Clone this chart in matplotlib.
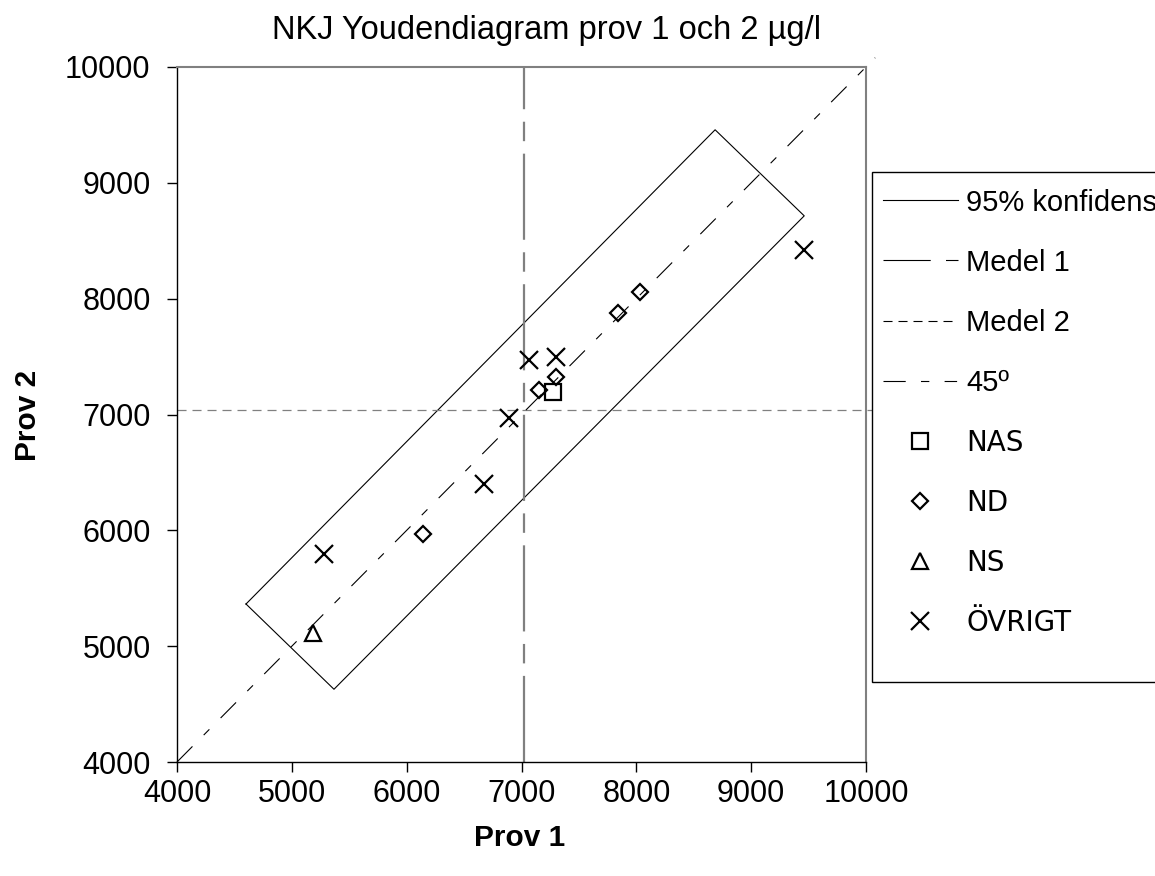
import matplotlib

matplotlib.use("Agg")
import matplotlib.pyplot as plt
from matplotlib.lines import Line2D
from matplotlib.patches import Rectangle

plt.rcParams["font.family"] = ["Liberation Sans", "DejaVu Sans"]
plt.rcParams["lines.scale_dashes"] = False

# results per lab group (prov 1, prov 2), µg/l
nas_x = [7277]
nas_y = [7197]
nd_x = [6145, 7155, 7300, 7838, 8032]
nd_y = [5968, 7212, 7322, 7873, 8060]
ns_x = [5187]
ns_y = [5110]
ovrigt_x = [5280, 6673, 6895, 7068, 7300, 9460]
ovrigt_y = [5796, 6400, 6967, 7471, 7499, 8420]

# means and 95% confidence box corners
medel_1 = 7022
medel_2 = 7039
conf_x = [4601, 5367, 9462, 8686, 4601]
conf_y = [5364, 4628, 8715, 9458, 5364]
diag_end = [4000, 10080]

ticks = [4000, 5000, 6000, 7000, 8000, 9000, 10000]

W, H = 1155, 876
fig = plt.figure(figsize=(W / 100, H / 100), dpi=100)
ax = fig.add_axes([177 / W, (H - 762) / H, 689 / W, 695 / H])

ax.set_xlim(4000, 10000)
ax.set_ylim(4000, 10000)

grey = "#808080"
ax.plot(conf_x, conf_y, color="black", lw=0.8, zorder=2)
ax.plot([medel_1, medel_1], [4000, 10000], color=grey, lw=1.6,
        dashes=[62, 9, 14, 9], zorder=2)
ax.plot([4000, 10050], [medel_2, medel_2], color=grey, lw=0.9,
        dashes=[6.5, 4.3], zorder=2, clip_on=False)
ax.plot(diag_end, diag_end, color="black", lw=0.8,
        dashes=[15.8, 11.5, 5.8, 11.5], zorder=2, clip_on=False)

mk = dict(color="black", linestyle="none", markerfacecolor="none",
          markeredgewidth=1.6, zorder=3)
ax.plot(nas_x, nas_y, marker="s", markersize=11, **mk)
ax.plot(nd_x, nd_y, marker="D", markersize=8.5, **mk)
ax.plot(ns_x, ns_y, marker="^", markersize=12, **mk)
ax.plot(ovrigt_x, ovrigt_y, marker="x", markersize=12.5, **mk)

ax.set_xticks(ticks)
ax.set_yticks(ticks)
ax.tick_params(direction="out", length=7, width=1, labelsize=22, colors="black")
ax.tick_params(axis="y", pad=12)
ax.tick_params(axis="x", pad=5)
for side in ("left", "bottom"):
    ax.spines[side].set_color("black")
    ax.spines[side].set_linewidth(1.0)
for side in ("top", "right"):
    ax.spines[side].set_color(grey)
    ax.spines[side].set_linewidth(1.5)

fig.text(546 / W, 1 - 30 / H, "NKJ Youdendiagram prov 1 och 2 µg/l",
         ha="center", va="center", fontsize=23.5)
fig.text(520 / W, 1 - 838 / H, "Prov 1", ha="center", va="center",
         fontsize=21.5, fontweight="bold")
fig.text(28 / W, 1 - 415 / H, "Prov 2", ha="center", va="center",
         fontsize=21.5, fontweight="bold", rotation=90)

# legend box, drawn separately so it can run off the right edge
fig.patches.append(Rectangle((872 / W, 1 - 682 / H), 300 / W, 510 / H,
                             transform=fig.transFigure, facecolor="white",
                             edgecolor="black", lw=1.0, zorder=4))

handles = [
    Line2D([], [], color="black", lw=0.8),
    Line2D([], [], color="black", lw=0.8, dashes=[34, 11, 9, 11]),
    Line2D([], [], color="black", lw=0.8, dashes=[6.5, 4.3]),
    Line2D([], [], color="black", lw=0.8, dashes=[16, 11, 6, 11, 9, 20]),
    Line2D([], [], marker="s", markersize=11, **mk),
    Line2D([], [], marker="D", markersize=8.5, **mk),
    Line2D([], [], marker="^", markersize=12, **mk),
    Line2D([], [], marker="x", markersize=12.5, **mk),
]
labels = ["95% konfidens", "Medel 1", "Medel 2", "45º", "NAS", "ND", "NS", "ÖVRIGT"]
leg = fig.legend(handles, labels, loc="upper left",
                 bbox_to_anchor=(868 / W, 1 - 174 / H), borderaxespad=0,
                 fontsize=21, frameon=False, borderpad=0.5, labelspacing=1.1,
                 handlelength=2.57, handletextpad=0.3)
leg.set_zorder(5)
for t in leg.get_texts()[4:]:
    t.set_family(["DejaVu Sans"])
    t.set_fontsize(20)

fig.savefig("out.png", dpi=100)
